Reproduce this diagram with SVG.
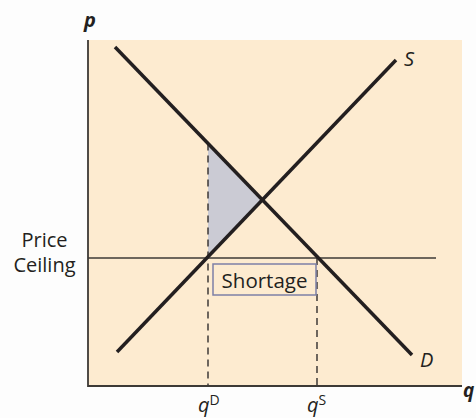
<svg xmlns="http://www.w3.org/2000/svg" width="476" height="418" viewBox="0 0 476 418">
<style>
.curve{stroke:#231f20;stroke-width:3.5;fill:none;stroke-linecap:butt}
.axis{stroke:#3d3a36;stroke-width:1.8;fill:none}
.dash{stroke:#231f20;stroke-width:1.3;stroke-dasharray:7,5;fill:none}
.lbl{font-family:"Open Sans","Noto Sans",sans-serif;fill:#231f20}
.it{font-style:italic}
</style>
<rect x="0" y="0" width="476" height="418" fill="#fdfdfd"/>
<g id="plot-area">
<rect x="88" y="40" width="374" height="346" fill="#fdebd0"/>
</g>
<g id="shortage-triangle">
<polygon points="208,143.5 262,200 208,257" fill="#cbcbd4"/>
</g>
<g id="connectors">
<line class="dash" x1="208" y1="143.5" x2="208" y2="386"/>
<line class="dash" x1="317" y1="258" x2="317" y2="386"/>
<line x1="88" y1="258" x2="436" y2="258" stroke="#3d3a36" stroke-width="1.3"/>
<line id="demand" class="curve" x1="115" y1="47" x2="412" y2="355"/>
<line id="supply" class="curve" x1="117" y1="352" x2="396" y2="60"/>
<polyline class="axis" points="88,40 88,386 462,386"/>
</g>
<g id="shortage-label">
<rect x="213" y="264" width="103" height="31" fill="#fdebd0" stroke="#7d80a6" stroke-width="1.5"/>
<text class="lbl" x="264.5" y="287.5" font-size="20.5" text-anchor="middle">Shortage</text>
</g>
<g id="price-ceiling-label">
<text class="lbl" x="44.5" y="247" font-size="20" text-anchor="middle">Price</text>
<text class="lbl" x="44.5" y="272" font-size="20" text-anchor="middle">Ceiling</text>
</g>
<g id="axis-labels">
<text class="lbl it" x="84" y="27" font-size="20" font-weight="bold">p</text>
<text class="lbl it" x="463" y="397" font-size="19" font-weight="bold">q</text>
<text class="lbl it" x="404" y="66" font-size="20">S</text>
<text class="lbl it" x="420" y="367" font-size="20">D</text>
<text class="lbl" x="198" y="412" font-size="20"><tspan class="it">q</tspan><tspan font-size="14" dy="-7">D</tspan></text>
<text class="lbl" x="307" y="412" font-size="20"><tspan class="it">q</tspan><tspan font-size="14" dy="-7">S</tspan></text>
</g>
</svg>
